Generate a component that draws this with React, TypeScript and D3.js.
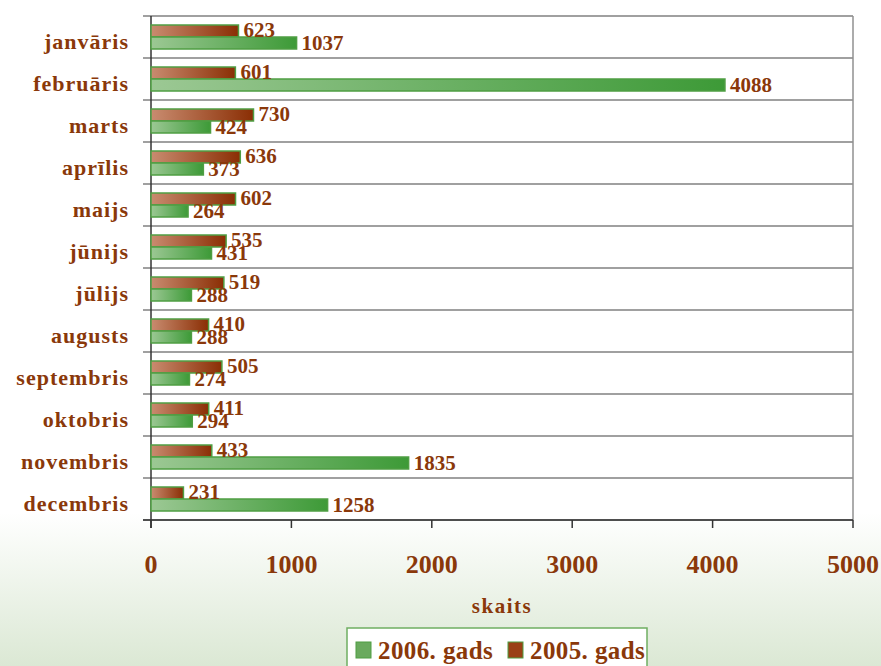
import React from "react";
import * as d3 from "d3";

const months = ["janvāris", "februāris", "marts", "aprīlis", "maijs", "jūnijs", "jūlijs", "augusts", "septembris", "oktobris", "novembris", "decembris"];
const values2005 = [623, 601, 730, 636, 602, 535, 519, 410, 505, 411, 433, 231];
const values2006 = [1037, 4088, 424, 373, 264, 431, 288, 288, 274, 294, 1835, 1258];
const xTicks = [0, 1000, 2000, 3000, 4000, 5000];
const seriesNames = ["2005", "2006"];

const W = 881, H = 666;
const left = 151, right = 853, top = 16, bottom = 520;
const txt = "#8a380a";
const font = "'Liberation Serif', 'Times New Roman', serif";

export default function App() {
  const x = d3.scaleLinear().domain([0, 5000]).range([left, right]);
  const y = d3.scaleBand().domain(months).range([top, bottom]);
  const inner = d3.scaleBand().domain(seriesNames).range([0, y.bandwidth()]).paddingOuter(0.75);
  const bh = inner.bandwidth();
  const boundaries = d3.range(months.length + 1).map(i => top + i * y.step());

  return (
    <svg width={W} height={H} style={{ position: "absolute", left: 0, top: 0 }}>
      <defs>
        <linearGradient id="bg" x1="0" y1="0" x2="0" y2="1">
          <stop offset="0" stopColor="#ffffff" />
          <stop offset="0.77" stopColor="#ffffff" />
          <stop offset="1" stopColor="#dbe8d4" />
        </linearGradient>
        <linearGradient id="gBrown" x1="0" y1="0" x2="1" y2="0">
          <stop offset="0" stopColor="#c98c70" />
          <stop offset="1" stopColor="#8a2e04" />
        </linearGradient>
        <linearGradient id="gGreen" x1="0" y1="0" x2="1" y2="0">
          <stop offset="0" stopColor="#9cc894" />
          <stop offset="1" stopColor="#3d9a37" />
        </linearGradient>
      </defs>
      <rect x={0} y={0} width={W} height={H} fill="url(#bg)" />
      <rect x={left} y={top} width={right - left} height={bottom - top} fill="#ffffff" />
      {boundaries.map((b, i) => (
        <line key={"g" + i} x1={left - 8} x2={right} y1={b} y2={b} stroke="#808080" strokeWidth={1.5} />
      ))}
      <line x1={right} x2={right} y1={top} y2={bottom} stroke="#909090" strokeWidth={1.5} />
      <line x1={left} x2={left} y1={top} y2={bottom + 8} stroke="#333" strokeWidth={1.5} />
      <line x1={left - 8} x2={right} y1={bottom} y2={bottom} stroke="#333" strokeWidth={1.5} />
      {xTicks.map(t => (
        <g key={"t" + t}>
          <line x1={x(t)} x2={x(t)} y1={bottom} y2={bottom + 8} stroke="#333" strokeWidth={1.5} />
          <text x={x(t)} y={573} textAnchor="middle" fontFamily={font} fontWeight="bold" fontSize={26} fill={txt}>{t}</text>
        </g>
      ))}
      {months.map((m, i) => {
        const y0 = y(m)!;
        const yb = y0 + inner("2005")!;
        const yg = y0 + inner("2006")!;
        return (
          <g key={m}>
            <text x={129} y={y0 + y.bandwidth() / 2 + 12} textAnchor="end" fontFamily={font} fontWeight="bold" fontSize={22} letterSpacing={1} fill={txt}>{m}</text>
            <rect x={x(0)} y={yb} width={x(values2005[i]) - x(0)} height={bh} fill="url(#gBrown)" stroke="#4f9e43" strokeWidth={1.5} />
            <rect x={x(0)} y={yg} width={x(values2006[i]) - x(0)} height={bh} fill="url(#gGreen)" stroke="#4f9e43" strokeWidth={1.5} />
            <text x={x(values2005[i]) + 5} y={yb + bh} fontFamily={font} fontWeight="bold" fontSize={21} fill={txt}>{values2005[i]}</text>
            <text x={x(values2006[i]) + 5} y={yg + bh + 1} fontFamily={font} fontWeight="bold" fontSize={21} fill={txt}>{values2006[i]}</text>
          </g>
        );
      })}
      <text x={(left + right) / 2} y={613} textAnchor="middle" fontFamily={font} fontWeight="bold" fontSize={21} letterSpacing={1.5} fill={txt}>skaits</text>
      <rect x={347} y={628} width={300} height={50} fill="#ffffff" stroke="#6fae62" strokeWidth={1.5} />
      <rect x={356} y={642} width={15} height={16} fill="#6aaa5e" stroke="#4f9e43" strokeWidth={1} />
      <text x={378} y={659} fontFamily={font} fontWeight="bold" fontSize={25} letterSpacing={0.4} fill={txt}>2006. gads</text>
      <rect x={508} y={642} width={15} height={16} fill="#9a4016" stroke="#4f9e43" strokeWidth={1} />
      <text x={530} y={659} fontFamily={font} fontWeight="bold" fontSize={25} letterSpacing={0.4} fill={txt}>2005. gads</text>
    </svg>
  );
}
